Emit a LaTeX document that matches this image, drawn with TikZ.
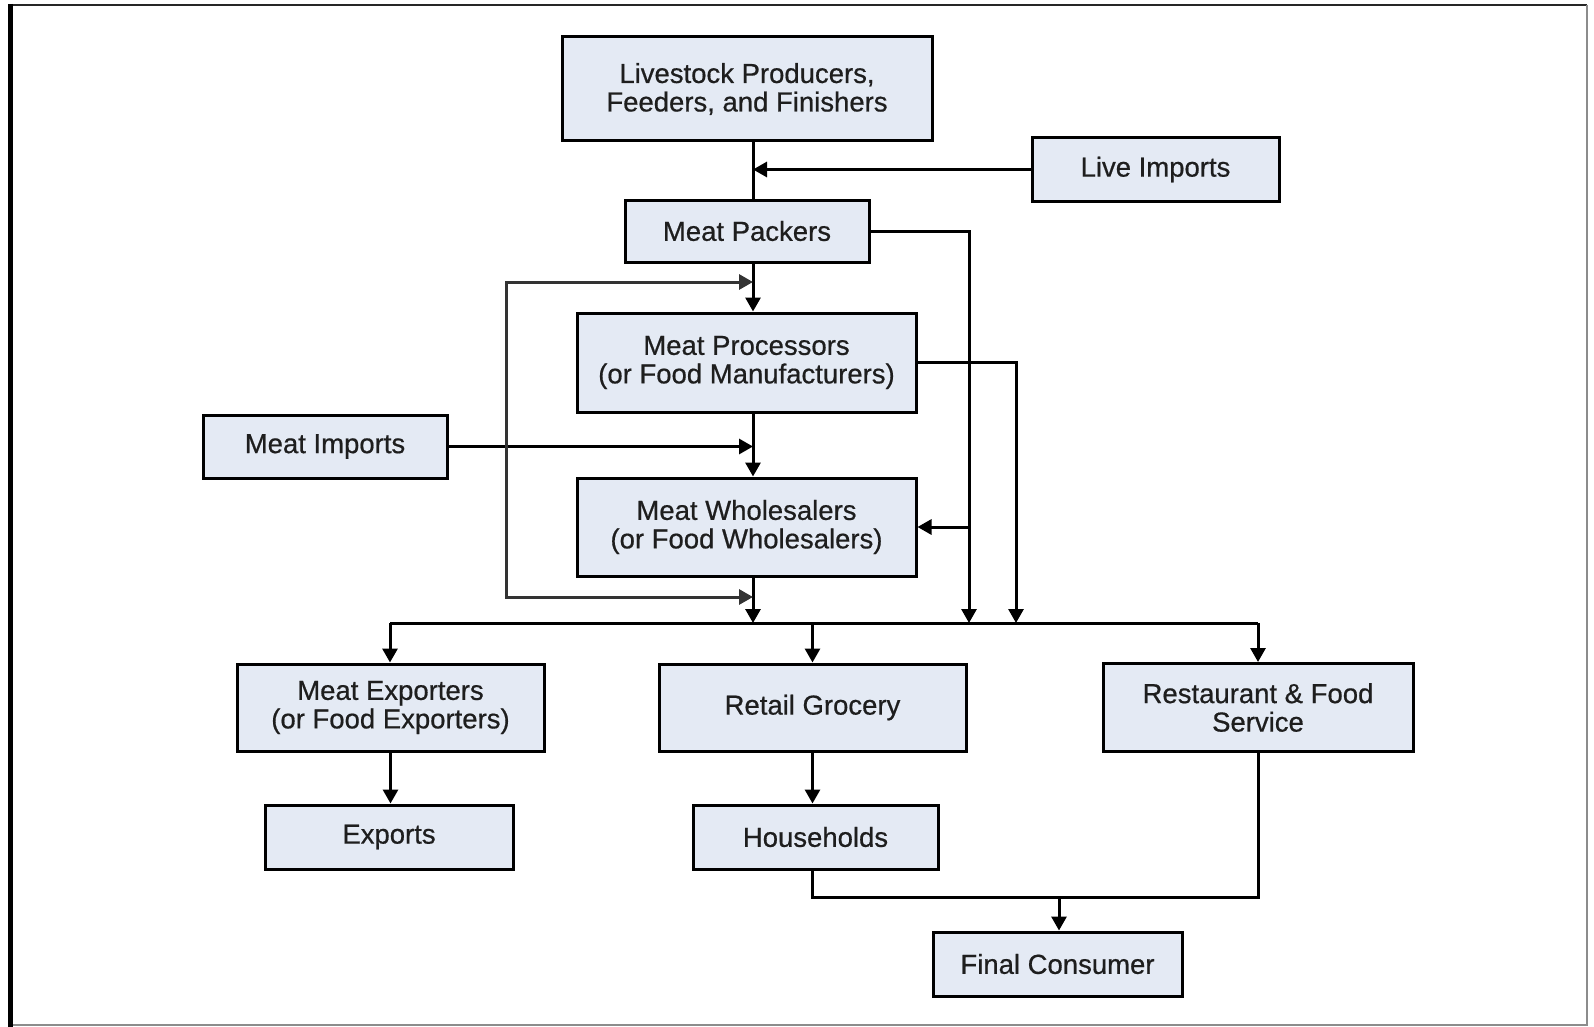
\documentclass[tikz,border=0pt]{standalone}
\usepackage{fontspec}
\setmainfont{Liberation Sans}[FakeBold=0.6]
\usetikzlibrary{arrows.meta}
\definecolor{boxfill}{RGB}{228,234,244}
\definecolor{inktext}{RGB}{30,30,30}
\tikzset{
  flowbox/.style={draw=black, line width=3pt, fill=boxfill, text=inktext,
    align=center, inner sep=0pt,
    font=\fontsize{27.5}{28.5}\selectfont},
  link/.style={line width=3pt, draw=black},
  flow/.style={link, -{Triangle[width=15pt,length=14pt]}},
}
\begin{document}
\begin{tikzpicture}[x=1pt,y=-1pt]
\useasboundingbox (0,0) rectangle (1594,1027);
% frame
\draw[line width=2.5pt, black!85] (8,5) -- (1587,5);
\draw[line width=2pt, black!45] (1587,5) -- (1587,1025) -- (10,1025);
\draw[line width=5pt, black] (10,4) -- (10,1027);

% boxes
\node[flowbox, minimum width=370pt, minimum height=104pt] (live) at (747,89)
  {Livestock Producers,\\Feeders, and Finishers};
\node[flowbox, minimum width=247pt, minimum height=63pt] (liveimp) at (1155.5,169.5)
  {Live Imports};
\node[flowbox, minimum width=244pt, minimum height=62pt] (packers) at (747,231)
  {Meat Packers};
\node[flowbox, minimum width=339pt, minimum height=99pt] (proc) at (746.5,362.5)
  {Meat Processors\\(or Food Manufacturers)};
\node[flowbox, minimum width=244pt, minimum height=63pt] (meatimp) at (325,446.5)
  {Meat Imports};
\node[flowbox, minimum width=339pt, minimum height=98pt] (whole) at (746.5,527)
  {Meat Wholesalers\\(or Food Wholesalers)};
\node[flowbox, minimum width=307pt, minimum height=87pt] (exporters) at (390.5,707.5)
  {Meat Exporters\\(or Food Exporters)};
\node[flowbox, minimum width=307pt, minimum height=87pt] (retail) at (812.5,707.5)
  {Retail Grocery};
\node[flowbox, minimum width=310pt, minimum height=88pt] (rest) at (1258,707.5)
  {Restaurant \& Food\\Service};
\node[flowbox, minimum width=248pt, minimum height=64pt] (exports) at (389,837)
  {Exports};
\node[flowbox, minimum width=245pt, minimum height=64pt] (house) at (815.5,837)
  {Households};
\node[flowbox, minimum width=249pt, minimum height=64pt] (final) at (1057.5,964)
  {Final Consumer};

% routing points
\coordinate (cx) at (753,0);
\coordinate (imp) at (506,446.5);
\coordinate (loopT) at (506,282);
\coordinate (loopB) at (506,597);
\coordinate (busL) at (390,623);
\coordinate (busR) at (1258,623);
\coordinate (pk) at (969,0);
\coordinate (pr) at (1016,0);
\coordinate (join) at (1059,897);

% main spine
\draw[link] (live.south -| cx) -- (packers.north -| cx);
\draw[flow] (liveimp.west) -- (liveimp.west -| cx);
\draw[flow] (packers.south -| cx) -- (proc.north -| cx);
\draw[flow] (proc.south -| cx) -- (whole.north -| cx);
\draw[flow] (whole.south -| cx) -- (busL -| cx);

% meat imports feed three levels
\draw[flow] (meatimp.east) -- (imp -| cx);
\draw[flow, draw=black!80] (imp) -- (loopT) -- (loopT -| cx);
\draw[flow, draw=black!80] (imp) -- (loopB) -- (loopB -| cx);

% packers and processors bypass lines
\draw[flow] (packers.east) -- (packers.east -| pk) -- (busL -| pk);
\draw[flow] (whole.east -| pk) -- (whole.east);
\draw[flow] (proc.east) -- (proc.east -| pr) -- (busL -| pr);

% distribution bus
\draw[link] (busL) -- (busR);
\draw[flow] (busL) -- (exporters.north -| busL);
\draw[flow] (busL -| retail.north) -- (retail.north);
\draw[flow] (busR) -- (rest.north -| busR);

% lower tier
\draw[flow] (exporters.south) -- (exporters.south |- exports.north);
\draw[flow] (retail.south) -- (retail.south |- house.north);
\draw[link] (house.south -| retail.south) -- (join -| retail.south) -- (join -| rest.south) -- (rest.south);
\draw[flow] (join) -- (final.north -| join);
\end{tikzpicture}
\end{document}
